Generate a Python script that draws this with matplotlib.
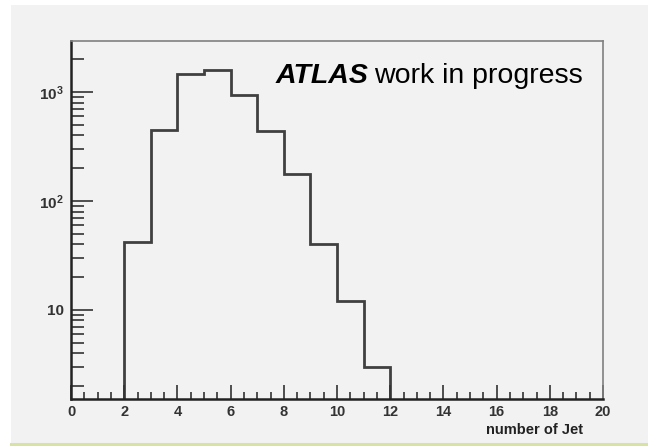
import matplotlib
matplotlib.use("Agg")
import matplotlib.pyplot as plt
from matplotlib.patches import Rectangle
from matplotlib.lines import Line2D
from matplotlib.ticker import MultipleLocator, LogLocator, NullFormatter
import numpy as np

# number of jets per event, bins 2..12
bin_edges = [2, 3, 4, 5, 6, 7, 8, 9, 10, 11, 12]
counts = [42, 446, 1452, 1592, 946, 436, 177, 40, 12, 3]

ytick_vals = [10, 100, 1000]
ytick_labels = ['10', r'$\mathbf{10^{2}}$', r'$\mathbf{10^{3}}$']
xtick_vals = [0, 2, 4, 6, 8, 10, 12, 14, 16, 18, 20]

plt.rcParams['font.family'] = ['Liberation Sans', 'DejaVu Sans']
plt.rcParams['mathtext.fontset'] = 'custom'
plt.rcParams['mathtext.rm'] = 'Liberation Sans'
plt.rcParams['mathtext.bf'] = 'Liberation Sans:bold'

bg = '#f2f2f2'
fig = plt.figure(figsize=(6.48, 4.46), dpi=100, facecolor='white')
# slide-like grey panel with a thin green line under it
fig.patches.append(Rectangle((11/648, 3/446), 1 - 11/648, 1 - 8/446,
                             transform=fig.transFigure, facecolor=bg,
                             edgecolor='none', zorder=-5))
fig.lines.append(Line2D([11/648, 1], [2/446, 2/446], transform=fig.transFigure,
                        color='#d6e3a4', linewidth=2.2, zorder=-4))

ax = fig.add_axes([71/648, 47/446, 532/648, 358/446])
ax.set_zorder(1)
ax.set_facecolor(bg)

ax.stairs(counts, bin_edges, baseline=1e-3, color='#404040', linewidth=2.0)

ax.set_yscale('log')
ax.set_xlim(0, 20)
ax.set_ylim(1.52, 2940)

ax.set_xticks(xtick_vals)
ax.set_xticklabels([str(v) for v in xtick_vals], fontweight='bold', fontsize=10.5)
ax.xaxis.set_minor_locator(MultipleLocator(0.5))
ax.set_yticks(ytick_vals)
ax.set_yticklabels(ytick_labels, fontweight='bold', fontsize=11)
ax.yaxis.set_minor_locator(LogLocator(base=10, subs=np.arange(2, 10)))
ax.yaxis.set_minor_formatter(NullFormatter())

ax.tick_params(axis='both', which='both', direction='in', colors='#333333',
               top=False, right=False)
ax.tick_params(axis='y', which='major', length=16, width=1.2, pad=5)
ax.tick_params(axis='y', which='minor', length=9, width=1.2)
ax.tick_params(axis='x', which='major', length=10, width=1.2, pad=4)
ax.tick_params(axis='x', which='minor', length=5, width=1.2)

for side in ['left', 'bottom']:
    ax.spines[side].set_color('#222222')
    ax.spines[side].set_linewidth(1.8)
for side in ['top', 'right']:
    ax.spines[side].set_color('#808080')
    ax.spines[side].set_linewidth(1.2)

fig.text(583/648, (446 - 434)/446, 'number of Jet', ha='right', va='baseline',
         fontsize=10.5, fontweight='bold', color='#222222', zorder=3)

# ATLAS label: bold italic word followed by plain text
t1 = fig.text(276/648, (446 - 83)/446, 'ATLAS', fontsize=20.5, fontweight='bold',
              fontstyle='italic', va='baseline', ha='left', color='black', zorder=3)
fig.canvas.draw()
bb = t1.get_window_extent(fig.canvas.get_renderer())
fig.text(bb.x1 / fig.bbox.width + 5/648, (446 - 83)/446, 'work in progress',
         fontsize=20.5, va='baseline', ha='left', color='black', zorder=3)

fig.savefig('out.png', dpi=100, facecolor='white')
